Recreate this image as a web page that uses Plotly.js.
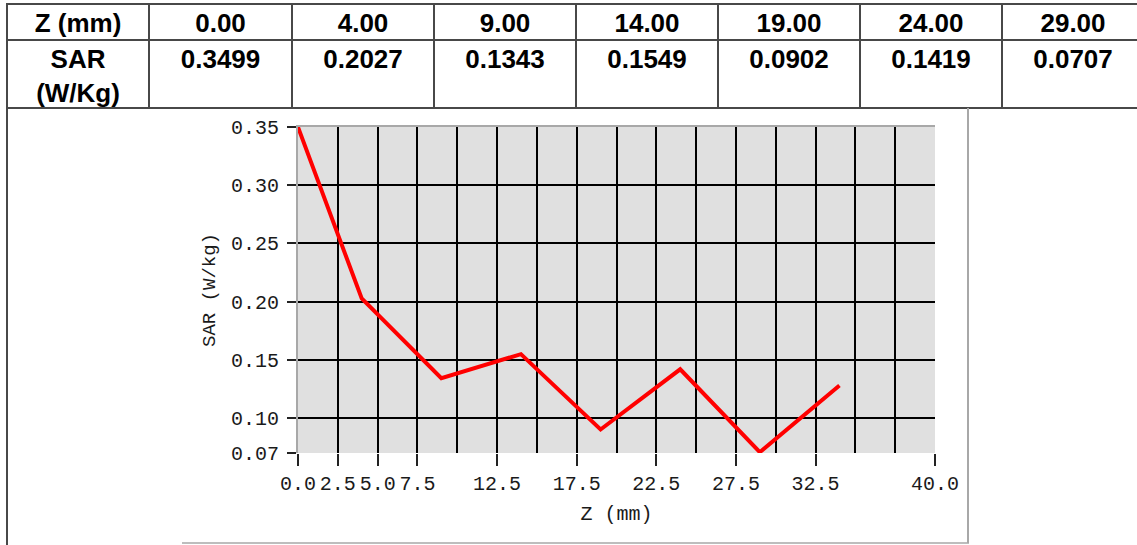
<!DOCTYPE html>
<html>
<head>
<meta charset="utf-8">
<script src="https://cdn.plot.ly/plotly-3.0.1.min.js"></script>
<style>
html, body { margin: 0; padding: 0; overflow: hidden; background: #fff; }
#chart { width: 1145px; height: 545px; }
</style>
</head>
<body>
<div id="chart"></div>
<script>
// ---- data ----
const Z_MM = [0, 4, 9, 14, 19, 24, 29, 34];
const SAR = [0.3499, 0.2027, 0.1343, 0.1549, 0.0902, 0.1419, 0.0707, 0.128];
const TABLE_COUNT = 7;
const TABLE_HEAD_LABEL = 'Z (mm)';
const TABLE_ROW_LABEL = ['SAR', '(W/Kg)'];
const X_TICKS = [0, 2.5, 5, 7.5, 12.5, 17.5, 22.5, 27.5, 32.5, 40];
const Y_TICKS = [0.07, 0.10, 0.15, 0.20, 0.25, 0.30, 0.35];
const X_GRID = [2.5, 5, 7.5, 10, 12.5, 15, 17.5, 20, 22.5, 25, 27.5, 30, 32.5, 35, 37.5];
const Y_GRID = [0.10, 0.15, 0.20, 0.25, 0.30];
const X_TITLE = 'Z (mm)';
const Y_TITLE = 'SAR (W/kg)';

// ---- layout geometry ----
const W = 1145, H = 545;
const px = v => v / W;
const py = v => 1 - v / H;

const TABLE_X0 = 7, TABLE_Y0 = 4, HEAD_H = 36, ROW_H = 34;
const COL_WIDTHS = [142, 143, 142, 142, 142, 142, 142, 142];
const TABLE_Y1 = TABLE_Y0 + HEAD_H + 2 * ROW_H;
const colEdges = COL_WIDTHS.reduce((acc, w) => { acc.push(acc[acc.length - 1] + w); return acc; }, [TABLE_X0]);

const tableFont = {family: 'Liberation Sans, Arial, sans-serif', size: 26, color: '#000', weight: 700};
const tableLineColor = '#484848';
const chartFont = 'Liberation Mono, DejaVu Sans Mono, monospace';

const tableTrace = {
  type: 'table',
  domain: {x: [px(TABLE_X0), px(colEdges[colEdges.length - 1])], y: [py(TABLE_Y1 + 1), py(TABLE_Y0)]},
  columnwidth: COL_WIDTHS,
  header: {
    values: [TABLE_HEAD_LABEL].concat(Z_MM.slice(0, TABLE_COUNT).map(v => v.toFixed(2))),
    height: HEAD_H,
    align: 'center',
    font: tableFont,
    line: {color: tableLineColor, width: 2},
    fill: {color: '#fff'}
  },
  cells: {
    values: [TABLE_ROW_LABEL].concat(SAR.slice(0, TABLE_COUNT).map(v => [v.toFixed(4), ''])),
    height: ROW_H,
    align: 'center',
    font: tableFont,
    line: {color: '#ffffff', width: 0},
    fill: {color: '#fff'}
  }
};

const lineTrace = {
  type: 'scatter', mode: 'lines',
  x: Z_MM, y: SAR,
  xaxis: 'x', yaxis: 'y',
  line: {color: '#ff0000', width: 4},
  hoverinfo: 'skip', showlegend: false
};

const gridTrace = {
  type: 'scatter', mode: 'lines',
  x: Z_MM, y: SAR,
  xaxis: 'x2', yaxis: 'y2',
  opacity: 0, line: {width: 0},
  hoverinfo: 'skip', showlegend: false
};

// table body rules (merged two-line row) and frame
const shapes = colEdges.map((x, i) => ({
  type: 'line', xref: 'paper', yref: 'paper',
  x0: px(x), x1: px(x),
  y0: i === 0 ? 0 : py(TABLE_Y1), y1: py(TABLE_Y0 + HEAD_H),
  line: {color: tableLineColor, width: 2}
}));
shapes.push({type: 'line', xref: 'paper', yref: 'paper', x0: px(TABLE_X0), x1: 1, y0: py(TABLE_Y1), y1: py(TABLE_Y1), line: {color: tableLineColor, width: 2}});
shapes.push({type: 'line', xref: 'paper', yref: 'paper', x0: px(182), x1: px(969), y0: py(543), y1: py(543), line: {color: '#bdbdbd', width: 2}});
shapes.push({type: 'line', xref: 'paper', yref: 'paper', x0: px(968), x1: px(968), y0: py(543), y1: py(TABLE_Y1), line: {color: '#a8a8a8', width: 2}});

const layout = {
  width: W, height: H,
  margin: {l: 0, r: 0, t: 0, b: 0, pad: 0},
  paper_bgcolor: '#ffffff',
  plot_bgcolor: '#e0e0e0',
  showlegend: false,
  xaxis: {
    domain: [px(298), px(935)],
    range: [0, 40],
    tickmode: 'array', tickvals: X_TICKS, ticktext: X_TICKS.map(v => v.toFixed(1)),
    ticks: 'outside', ticklen: 12, tickwidth: 2, tickcolor: '#222',
    tickangle: 0,
    showgrid: false, zeroline: false, showline: false,
    tickfont: {family: chartFont, size: 20, color: '#1a1a1a'},
    title: {text: X_TITLE, font: {family: chartFont, size: 20, color: '#1a1a1a'}, standoff: 10},
    fixedrange: true
  },
  yaxis: {
    domain: [py(453), py(127)],
    range: [0.07, 0.35],
    tickmode: 'array', tickvals: Y_TICKS, ticktext: Y_TICKS.map(v => v.toFixed(2)),
    ticks: 'outside', ticklen: 9, tickwidth: 2, tickcolor: '#222',
    ticklabelstandoff: 4,
    showgrid: false, zeroline: false,
    showline: true, linecolor: '#a8a8a8', linewidth: 2,
    tickfont: {family: chartFont, size: 20, color: '#1a1a1a'},
    title: {text: Y_TITLE, font: {family: chartFont, size: 19, color: '#1a1a1a'}, standoff: 10},
    fixedrange: true
  },
  xaxis2: {
    overlaying: 'x', anchor: 'y2', side: 'top',
    range: [0, 40],
    tickmode: 'array', tickvals: X_GRID,
    showticklabels: false, ticks: '',
    showgrid: true, gridcolor: '#000000', gridwidth: 2,
    zeroline: false,
    showline: true, linecolor: '#a8a8a8', linewidth: 2,
    fixedrange: true
  },
  yaxis2: {
    overlaying: 'y', anchor: 'x2', side: 'left',
    range: [0.07, 0.35],
    tickmode: 'array', tickvals: Y_GRID,
    showticklabels: false, ticks: '',
    showgrid: true, gridcolor: '#000000', gridwidth: 2,
    zeroline: false, showline: false,
    fixedrange: true
  },
  shapes: shapes
};

Plotly.newPlot('chart', [gridTrace, lineTrace, tableTrace], layout, {displayModeBar: false, staticPlot: true});
</script>
</body>
</html>
